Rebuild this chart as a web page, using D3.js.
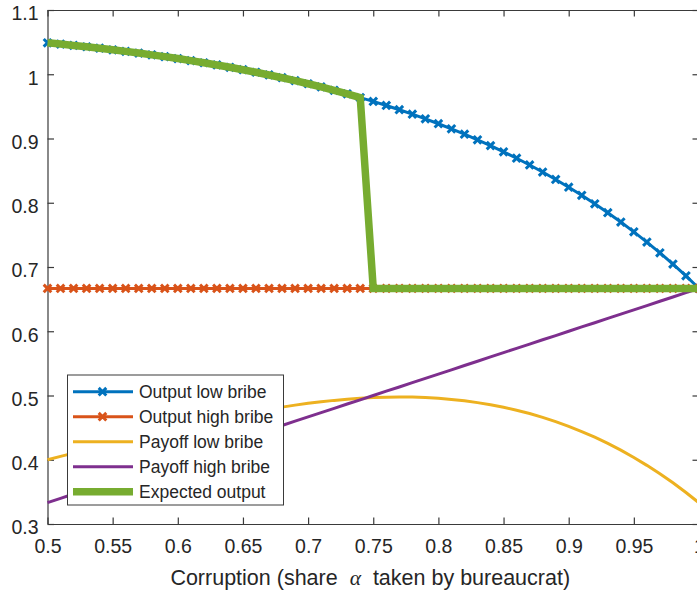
<!DOCTYPE html>
<html>
<head>
<meta charset="utf-8">
<script src="https://cdn.jsdelivr.net/npm/d3@7"></script>
<style>
  body { margin: 0; background: #fff; }
  svg { display: block; }
  text { font-family: "Liberation Sans", Arial, Helvetica, sans-serif; fill: #262626; }
</style>
</head>
<body>
<svg id="chart"></svg>
<script>
// share alpha taken by the bureaucrat
const alpha = [
    0.50, 0.51, 0.52, 0.53, 0.54, 0.55, 0.56, 0.57, 0.58, 0.59,
    0.60, 0.61, 0.62, 0.63, 0.64, 0.65, 0.66, 0.67, 0.68, 0.69,
    0.70, 0.71, 0.72, 0.73, 0.74, 0.75, 0.76, 0.77, 0.78, 0.79,
    0.80, 0.81, 0.82, 0.83, 0.84, 0.85, 0.86, 0.87, 0.88, 0.89,
    0.90, 0.91, 0.92, 0.93, 0.94, 0.95, 0.96, 0.97, 0.98, 0.99,
    1.00
];

const outputLow = [
    1.0490, 1.0470, 1.0449, 1.0428, 1.0405, 1.0381, 1.0356, 1.0330, 1.0302, 1.0274,
    1.0244, 1.0212, 1.0179, 1.0145, 1.0108, 1.0071, 1.0031, 0.9989, 0.9946, 0.9900,
    0.9852, 0.9802, 0.9750, 0.9695, 0.9637, 0.9577, 0.9514, 0.9448, 0.9379, 0.9306,
    0.9230, 0.9151, 0.9067, 0.8980, 0.8889, 0.8793, 0.8693, 0.8588, 0.8478, 0.8363,
    0.8242, 0.8116, 0.7983, 0.7845, 0.7699, 0.7547, 0.7388, 0.7221, 0.7046, 0.6863,
    0.6667
];

const outputHigh = [
    0.6667, 0.6667, 0.6667, 0.6667, 0.6667, 0.6667, 0.6667, 0.6667, 0.6667, 0.6667,
    0.6667, 0.6667, 0.6667, 0.6667, 0.6667, 0.6667, 0.6667, 0.6667, 0.6667, 0.6667,
    0.6667, 0.6667, 0.6667, 0.6667, 0.6667, 0.6667, 0.6667, 0.6667, 0.6667, 0.6667,
    0.6667, 0.6667, 0.6667, 0.6667, 0.6667, 0.6667, 0.6667, 0.6667, 0.6667, 0.6667,
    0.6667, 0.6667, 0.6667, 0.6667, 0.6667, 0.6667, 0.6667, 0.6667, 0.6667, 0.6667,
    0.6667
];

const payoffLow = [
    0.4000, 0.4052, 0.4103, 0.4154, 0.4205, 0.4256, 0.4306, 0.4356, 0.4405, 0.4453,
    0.4499, 0.4546, 0.4590, 0.4633, 0.4675, 0.4714, 0.4751, 0.4786, 0.4819, 0.4850,
    0.4878, 0.4902, 0.4924, 0.4941, 0.4956, 0.4967, 0.4974, 0.4976, 0.4975, 0.4967,
    0.4956, 0.4939, 0.4917, 0.4889, 0.4856, 0.4817, 0.4771, 0.4719, 0.4660, 0.4594,
    0.4520, 0.4439, 0.4351, 0.4254, 0.4149, 0.4035, 0.3913, 0.3781, 0.3641, 0.3490,
    0.3330
];

const payoffHigh = [
    0.3333, 0.3400, 0.3467, 0.3533, 0.3600, 0.3667, 0.3733, 0.3800, 0.3867, 0.3933,
    0.4000, 0.4067, 0.4133, 0.4200, 0.4267, 0.4333, 0.4400, 0.4467, 0.4533, 0.4600,
    0.4667, 0.4733, 0.4800, 0.4867, 0.4933, 0.5000, 0.5067, 0.5133, 0.5200, 0.5267,
    0.5333, 0.5400, 0.5467, 0.5533, 0.5600, 0.5667, 0.5733, 0.5800, 0.5867, 0.5933,
    0.6000, 0.6067, 0.6133, 0.6200, 0.6267, 0.6333, 0.6400, 0.6467, 0.6533, 0.6600,
    0.6667
];

const expectedOutput = [
    1.0490, 1.0470, 1.0449, 1.0428, 1.0405, 1.0381, 1.0356, 1.0330, 1.0302, 1.0274,
    1.0244, 1.0212, 1.0179, 1.0145, 1.0108, 1.0071, 1.0031, 0.9989, 0.9946, 0.9900,
    0.9852, 0.9802, 0.9750, 0.9695, 0.9637, 0.6667, 0.6667, 0.6667, 0.6667, 0.6667,
    0.6667, 0.6667, 0.6667, 0.6667, 0.6667, 0.6667, 0.6667, 0.6667, 0.6667, 0.6667,
    0.6667, 0.6667, 0.6667, 0.6667, 0.6667, 0.6667, 0.6667, 0.6667, 0.6667, 0.6667,
    0.6667
];

const seriesNames = ['Output low bribe', 'Output high bribe', 'Payoff low bribe', 'Payoff high bribe', 'Expected output'];
const xTicks = [0.5, 0.55, 0.6, 0.65, 0.7, 0.75, 0.8, 0.85, 0.9, 0.95, 1];
const yTicks = [0.3, 0.4, 0.5, 0.6, 0.7, 0.8, 0.9, 1, 1.1];

let w = 697, h = 593;
let pLeft = 47.5, pRight = 699, pTop = 10, pBottom = 524;
let axisColor = '#3a3a3a';
let tickLen = 6.5;

// matlab default colour order
let styles = [
    { color: '#0072BD', width: 3, marker: true },
    { color: '#D95319', width: 3, marker: true },
    { color: '#EDB120', width: 3, marker: false },
    { color: '#7E2F8E', width: 3, marker: false },
    { color: '#77AC30', width: 7.5, marker: false }
];
let series = [outputLow, outputHigh, payoffLow, payoffHigh, expectedOutput];

let svg = d3.select('#chart')
    .attr('width', w)
    .attr('height', h);

svg.append('rect')
    .attr('width', w)
    .attr('height', h)
    .attr('fill', '#fff');

let xScale = d3.scaleLinear()
    .domain([0.5, 1])
    .range([pLeft, pRight]);

let yScale = d3.scaleLinear()
    .domain([0.3, 1.1])
    .range([pBottom, pTop]);

function styleAxis(g, labels) {
    g.attr('font-size', 19.5)
        .attr('font-family', null);
    g.select('.domain')
        .attr('stroke', axisColor)
        .attr('stroke-width', 1.2);
    g.selectAll('.tick line')
        .attr('stroke', axisColor)
        .attr('stroke-width', 1.2);
    if (!labels) g.selectAll('.tick text').remove();
}

//x-axis
svg.append('g')
    .attr('transform', 'translate(0, ' + pBottom + ')')
    .call(d3.axisBottom(xScale)
        .tickValues(xTicks)
        .tickSizeInner(-tickLen)
        .tickSizeOuter(0)
        .tickPadding(15.5)
        .tickFormat(d3.format('~g')))
    .call(g => styleAxis(g, true));

//top edge
svg.append('g')
    .attr('transform', 'translate(0, ' + pTop + ')')
    .call(d3.axisTop(xScale)
        .tickValues(xTicks)
        .tickSizeInner(-tickLen)
        .tickSizeOuter(0))
    .call(g => styleAxis(g, false));

//y-axis
svg.append('g')
    .attr('transform', 'translate(' + pLeft + ', 0)')
    .call(d3.axisLeft(yScale)
        .tickValues(yTicks)
        .tickSizeInner(-tickLen)
        .tickSizeOuter(0)
        .tickPadding(9)
        .tickFormat(d3.format('~g')))
    .call(g => styleAxis(g, true))
    .selectAll('.tick text')
    .attr('dy', '0.5em');

//right edge
svg.append('g')
    .attr('transform', 'translate(' + pRight + ', 0)')
    .call(d3.axisRight(yScale)
        .tickValues(yTicks)
        .tickSizeInner(-tickLen)
        .tickSizeOuter(0))
    .call(g => styleAxis(g, false));

let line = d3.line()
    .x((d, i) => xScale(alpha[i]))
    .y(d => yScale(d));

let cross = 'M-3.8,-3.8L3.8,3.8M-3.8,3.8L3.8,-3.8';

series.forEach((values, k) => {
    let s = styles[k];
    svg.append('path')
        .datum(values)
        .attr('d', line)
        .attr('fill', 'none')
        .attr('stroke', s.color)
        .attr('stroke-width', s.width)
        .attr('stroke-linejoin', 'miter');

    if (s.marker) {
        svg.append('g')
            .selectAll('path')
            .data(values)
            .enter()
            .append('path')
            .attr('transform', (d, i) => 'translate(' + xScale(alpha[i]) + ',' + yScale(d) + ')')
            .attr('d', cross)
            .attr('fill', 'none')
            .attr('stroke', s.color)
            .attr('stroke-width', 3);
    }
});

//legend
let legend = svg.append('g')
    .attr('transform', 'translate(67.5, 375)');

legend.append('rect')
    .attr('width', 216)
    .attr('height', 130)
    .attr('fill', '#fff')
    .attr('stroke', axisColor)
    .attr('stroke-width', 1);

let rows = legend.selectAll('g.row')
    .data(seriesNames)
    .enter()
    .append('g')
    .attr('transform', (d, i) => 'translate(0, ' + (16.7 + i * 25) + ')');

rows.append('line')
    .attr('x1', 5.5)
    .attr('x2', 65.5)
    .attr('stroke', (d, i) => styles[i].color)
    .attr('stroke-width', (d, i) => styles[i].width);

rows.filter((d, i) => styles[i].marker)
    .append('path')
    .attr('transform', 'translate(35, 0)')
    .attr('d', cross)
    .attr('fill', 'none')
    .attr('stroke', (d, i) => styles[i].color)
    .attr('stroke-width', 3);

rows.append('text')
    .attr('x', 71.5)
    .attr('y', 6.2)
    .attr('font-size', 17.5)
    .text(d => d);

//x-axis title
let xTitle = svg.append('text')
    .attr('x', (pLeft + pRight) / 2 - 3)
    .attr('y', 585)
    .attr('font-size', 21.5)
    .style('text-anchor', 'middle')
    .style('white-space', 'pre');
xTitle.append('tspan').text('Corruption (share  ');
xTitle.append('tspan')
    .style('font-family', '"Liberation Serif", "DejaVu Serif", serif')
    .style('font-style', 'italic')
    .text('α');
xTitle.append('tspan').text('  taken by bureaucrat)');
</script>
</body>
</html>
